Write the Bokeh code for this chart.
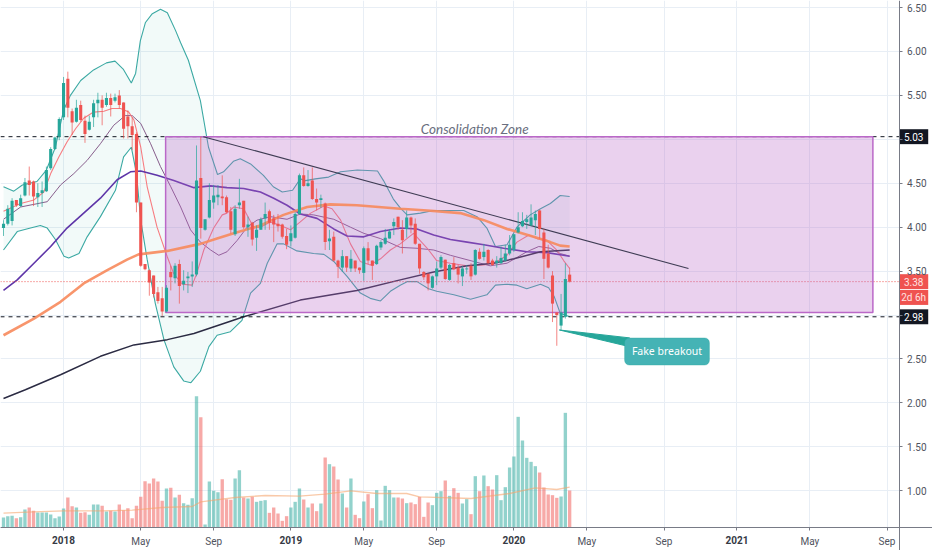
from bokeh.plotting import figure
from bokeh.core.properties import value
from bokeh.models import (ColumnDataSource, FixedTicker, Range1d, BoxAnnotation, LinearAxis, NumeralTickFormatter)
from bokeh.embed import file_html
from bokeh.resources import INLINE

candle_open = [3.99,4.04,4.07,4.31,4.24,4.36,4.53,4.52,4.34,4.39,4.41,4.67,4.89,5.03,5.25,5.69,5.32,5.20,5.39,5.21,5.11,5.25,5.41,5.45,5.39,5.47,5.44,5.50,5.42,5.26,5.15,5.06,4.28,3.58,3.51,3.45,3.26,3.19,3.04,3.49,3.42,3.58,3.35,3.42,3.44,3.46,4.56,3.97,4.11,4.28,4.34,4.35,4.34,4.18,3.92,4.25,4.30,4.00,4.05,3.88,3.97,4.10,4.18,4.10,4.04,4.03,3.90,3.84,3.88,4.15,4.59,4.47,4.53,4.32,4.31,4.27,3.84,3.89,3.62,3.54,3.67,3.53,3.62,3.54,3.48,3.76,3.62,3.58,3.77,3.81,3.87,4.01,4.12,3.97,3.98,4.11,4.04,3.81,3.49,3.47,3.31,3.44,3.54,3.63,3.40,3.59,3.54,3.44,3.52,3.56,3.46,3.72,3.66,3.74,3.62,3.59,3.59,3.62,3.70,3.74,3.94,4.01,4.06,4.02,4.08,4.19,3.94,3.70,3.45,3.03,2.88,2.98,3.46]
candle_high = [4.08,4.25,4.33,4.31,4.37,4.56,4.69,4.53,4.50,4.52,4.69,4.91,5.03,5.25,5.71,5.77,5.35,5.45,5.44,5.27,5.27,5.45,5.53,5.50,5.53,5.52,5.52,5.56,5.42,5.33,5.25,5.08,4.28,3.58,3.52,3.45,3.32,3.32,3.34,3.56,3.59,3.63,3.51,3.49,3.61,4.93,5.03,4.09,4.50,4.48,4.48,4.59,4.36,4.23,4.25,4.55,4.30,4.12,4.06,4.02,4.11,4.28,4.20,4.14,4.15,4.04,3.98,4.02,4.17,4.61,4.68,4.65,4.68,4.44,4.37,4.28,3.97,3.95,3.63,3.74,3.67,3.74,3.62,3.54,3.78,3.83,3.62,3.80,3.85,3.98,3.98,4.10,4.12,4.08,4.19,4.12,4.10,3.81,3.50,3.47,3.45,3.61,3.68,3.63,3.58,3.66,3.57,3.56,3.57,3.59,3.75,3.76,3.81,3.75,3.64,3.67,3.78,3.80,3.91,3.92,4.17,4.17,4.14,4.26,4.19,4.20,3.98,3.80,3.50,3.03,3.24,3.59,3.54]
candle_low = [3.90,4.02,4.02,4.23,4.23,4.35,4.36,4.24,4.23,4.23,4.40,4.65,4.88,4.99,5.22,5.25,5.05,5.19,5.20,4.96,5.10,5.14,5.25,5.16,5.37,5.26,5.42,5.35,5.01,5.01,4.88,4.17,3.55,3.51,3.22,3.20,3.13,2.99,3.03,3.28,3.36,3.13,3.28,3.25,3.32,3.44,3.87,3.96,4.10,4.21,4.25,4.25,4.16,3.93,3.90,4.21,3.98,3.89,3.79,3.73,3.97,3.97,3.97,3.83,3.95,3.87,3.75,3.78,3.87,4.14,4.46,4.46,4.31,4.19,4.22,3.74,3.74,3.61,3.42,3.49,3.49,3.49,3.49,3.47,3.39,3.58,3.40,3.57,3.74,3.80,3.87,3.91,3.97,3.70,3.88,3.93,3.80,3.47,3.40,3.28,3.30,3.34,3.52,3.40,3.39,3.51,3.36,3.33,3.47,3.40,3.45,3.63,3.62,3.58,3.56,3.54,3.58,3.61,3.68,3.72,3.93,4.00,3.98,4.01,3.91,3.87,3.41,3.53,2.92,2.65,2.83,2.96,3.37]
candle_close = [4.04,4.21,4.30,4.25,4.33,4.51,4.48,4.35,4.39,4.42,4.65,4.89,5.02,5.23,5.64,5.36,5.19,5.36,5.22,5.06,5.20,5.41,5.45,5.36,5.47,5.39,5.48,5.39,5.12,5.15,5.05,4.28,3.56,3.52,3.37,3.24,3.16,3.04,3.31,3.43,3.56,3.33,3.39,3.44,3.46,4.53,3.99,4.09,4.31,4.36,4.37,4.33,4.17,3.97,4.21,4.28,4.00,4.03,3.86,3.97,4.09,4.15,4.05,4.03,4.01,3.89,3.80,3.93,4.15,4.59,4.47,4.50,4.32,4.28,4.33,3.83,3.87,3.62,3.55,3.67,3.54,3.64,3.53,3.51,3.76,3.62,3.56,3.79,3.83,3.88,3.95,4.06,4.00,3.85,4.11,4.02,3.81,3.53,3.43,3.36,3.44,3.53,3.66,3.41,3.57,3.52,3.46,3.53,3.53,3.44,3.74,3.64,3.72,3.59,3.57,3.62,3.65,3.70,3.80,3.92,4.00,4.07,4.09,4.11,4.15,3.98,3.64,3.54,3.13,3.00,3.03,3.41,3.38]
volume = [0.30,0.34,0.35,0.28,0.31,0.54,0.60,0.50,0.45,0.45,0.45,0.39,0.28,0.33,0.57,0.90,0.64,0.60,0.44,0.46,0.38,0.69,0.69,0.65,0.48,0.50,0.48,0.69,0.52,0.58,0.28,0.65,0.92,1.39,1.32,1.47,1.38,0.80,1.17,1.19,0.90,0.98,0.73,0.68,0.88,3.94,3.31,0.09,1.38,1.10,1.06,1.45,0.85,0.83,1.47,1.72,0.90,0.87,0.92,0.77,0.80,0.82,0.44,0.60,0.42,0.20,0.34,0.60,0.77,1.17,0.84,0.60,0.72,0.49,0.72,2.10,1.90,1.83,1.44,1.02,0.60,1.47,0.38,0.28,0.78,1.00,0.58,1.12,0.21,1.25,1.12,0.90,0.90,0.87,0.73,0.75,0.70,0.92,0.32,0.75,0.67,1.04,1.09,1.41,0.95,1.18,1.04,0.72,0.85,0.40,1.54,1.09,1.56,1.24,1.14,1.57,0.82,1.21,1.80,2.13,3.32,2.61,2.09,1.97,1.84,1.65,1.20,0.99,0.97,0.89,0.93,3.44,1.11]
vol_ma_x = [0,7,14,23,30,37,44,46,54,61,69,75,81,87,94,97,109,118,124,129,132]
vol_ma_y = [0.43,0.47,0.50,0.50,0.52,0.60,0.63,0.77,0.90,0.96,0.94,1.00,1.10,1.02,1.02,0.92,0.87,1.02,1.19,1.14,1.21]

bb_upper_x = [0,2.4,4.4,7.8,10,12.1,14,15.6,18,21,24,26,27.9,29.8,30.8,31.9,33.1,34.7,36.6,38.2,40.1,41.3,43.1,45.9,47.8,49.9,51.3,53.6,55.2,57.6,60.6,62.9,65,67.4,69.2,70.4,72.7,75.8,78.6,82.5,87.2,88.6,90.9,92.5,94.1,97.2,100.3,104.2,107.3,110.4,112.7,114.7,117.4,119.7,122.8,125.2,127.5,129.8,132]
bb_upper_y = [4.46,4.41,4.48,4.52,4.65,4.91,5.33,5.50,5.67,5.79,5.87,5.89,5.80,5.64,5.75,6.12,6.33,6.43,6.48,6.44,6.24,6.10,5.90,5.44,4.91,4.60,4.63,4.75,4.78,4.72,4.59,4.46,4.40,4.42,4.55,4.53,4.55,4.57,4.63,4.65,4.64,4.53,4.32,4.22,4.14,4.16,4.19,4.19,4.19,4.12,3.99,3.78,3.80,4.00,4.14,4.21,4.27,4.36,4.35]
bb_lower_x = [0,3.2,6.3,8.6,10.2,12.1,14.1,15.2,17.6,19.5,22.6,26.1,28,29.8,31,32,33.5,35.4,37.4,39.7,42,43.7,45.9,47.9,49.8,52.9,55.6,57.6,59.9,61.5,63.8,65.3,68.4,72.3,74.7,77,80.1,83.2,85.5,87.9,90.2,92.5,94.1,96.4,99.1,101,105,108.9,112.7,114.7,117.4,119.7,122,125.2,127.1,128.4,129.8,132]
bb_lower_y = [3.74,3.95,3.99,4.02,3.99,3.86,3.67,3.65,3.70,3.89,4.12,4.42,4.80,4.91,4.61,4.08,3.63,3.13,2.72,2.41,2.25,2.23,2.36,2.64,2.77,2.81,2.94,3.25,3.36,3.59,3.81,3.81,3.73,3.70,3.69,3.61,3.44,3.25,3.19,3.16,3.27,3.34,3.38,3.38,3.30,3.27,3.23,3.18,3.23,3.34,3.35,3.34,3.30,3.35,3.31,3.21,3.02,2.98]
bb_mid_x = [0,4,7.1,10.2,13.3,16.4,19.5,22.6,25.7,28.4,30,32,34.3,36.6,39,41.3,43.6,45.9,48.3,50.2,52.1,54.5,56.8,59.1,62.2,66.1,69.2,72.3,77,80.9,84,87.9,92.5,96.4,100.3,104.2,109.6,113.5,117.4,122,124.8,127.5,129.8,132]
bb_mid_y = [4.09,4.23,4.26,4.29,4.48,4.61,4.76,4.95,5.16,5.27,5.27,5.18,4.95,4.69,4.46,4.23,3.97,3.83,3.74,3.68,3.72,3.85,4.00,4.08,4.12,4.09,4.15,4.14,4.09,4.00,3.93,3.87,3.77,3.76,3.74,3.68,3.61,3.56,3.59,3.72,3.78,3.76,3.70,3.67]
fast_ma_x = [0,4,7.1,9.4,11,12.9,14.8,16.8,18.7,21,23.4,25.3,27.3,29.2,30.4,32,33.5,35.8,38.2,39.7,41.7,44,45.1,46.7,49,51,52.1,53.7,56,58.4,59.9,62.2,64.6,66.9,69.2,71.6,74.7,76.6,78.6,80.9,83.2,85.5,87.9,90.2,92.5,95.6,98.8,101,104.2,108.1,112,115.1,117.4,119.7,122.5,124.4,126.7,129,130.6,132]
fast_ma_y = [4.18,4.27,4.31,4.40,4.61,4.80,4.97,5.12,5.24,5.31,5.32,5.35,5.35,5.31,5.22,4.91,4.46,4.00,3.66,3.47,3.35,3.34,3.48,3.74,3.99,4.14,4.16,4.23,4.21,3.99,4.00,4.06,4.02,3.97,4.06,4.16,4.24,4.21,4.08,3.81,3.61,3.57,3.64,3.74,3.81,3.93,3.76,3.62,3.59,3.56,3.57,3.61,3.68,3.83,3.91,3.87,3.85,3.74,3.62,3.53]
ma50_x = [0,3.2,7.1,11,14.8,18.7,22.6,26.5,29.6,32,35.8,39.7,44.4,48.3,52.1,56,59.9,63,66.1,69.2,73.1,77,80.1,84,87.9,92.5,96.4,100.3,104.2,108.1,112,116.6,122,126.7,132]
ma50_y = [3.28,3.40,3.59,3.78,3.99,4.16,4.33,4.54,4.63,4.64,4.59,4.53,4.45,4.47,4.45,4.44,4.40,4.33,4.25,4.15,4.10,3.98,3.90,3.89,3.95,3.99,3.98,3.91,3.86,3.83,3.80,3.76,3.72,3.71,3.67]
ma100_x = [0,7.1,13.3,18.7,24.2,28.8,31.5,38.2,45.9,49.8,53.7,59.9,65.3,70.8,76.2,82.4,92.5,98.8,106.5,112,117.4,123.6,127.5,129.8,132]
ma100_y = [2.77,2.96,3.15,3.36,3.51,3.63,3.69,3.73,3.81,3.87,3.93,4.02,4.14,4.23,4.26,4.25,4.21,4.19,4.16,4.08,3.98,3.89,3.83,3.79,3.78]
ma200_x = [0,5.1,13.3,22.6,30.4,38.2,44.4,52.9,56,69.2,82.4,92.5,100.3,108.1,114.3,119,125.2,132]
ma200_y = [2.05,2.15,2.32,2.53,2.66,2.72,2.79,2.93,2.98,3.17,3.28,3.40,3.49,3.56,3.59,3.64,3.72,3.74]

trend_x = [46.6, 159.7]
trend_y = [5.03, 3.53]
zone_left, zone_right, zone_top, zone_bottom = 37.8, 202.7, 5.03, 3.03
support, resistance, last_price = 2.98, 5.03, 3.38
year_ticks = [14,67,119,171]
year_labels = ["2018","2019","2020","2021"]
month_ticks = [32,49,84,101,136,154,188,206]
month_labels = ["May","Sep","May","Sep","May","Sep","May","Sep"]
y_ticks = [1.0,1.5,2.0,2.5,3.0,3.5,4.0,4.5,5.0,5.5,6.0,6.5]
callout_x = [129.6,146,146.8]
callout_y = [2.83,2.74,2.63]
tag_values = [5.03, 3.38, 3.20, 2.98]
tag_texts = ["5.03", "3.38", "2d 6h", "2.98"]
tag_fill = ["#131722", "#ef5350", "#ef5350", "#131722"]
tag_ink = ["#ffffff", "#ffe3e2", "#ffe3e2", "#ffffff"]

FONT = "Roboto"
GREEN, RED = "#26a69a", "#ef5350"
TICK = "#50535e"
X0, XAXIS, XEND = -0.7, 208.8, 216.6
YAXIS, YBOTTOM, YTOP = 0.58, 0.32, 6.58

p = figure(width=932, height=550, output_backend="svg", toolbar_location=None,
           x_range=Range1d(X0, XEND), y_range=Range1d(YBOTTOM, YTOP),
           y_axis_location="right", min_border_left=0, min_border_top=0,
           min_border_right=0, min_border_bottom=0, outline_line_color=None)
p.extra_y_ranges["vol"] = Range1d(-0.69, 15.81)

p.xaxis.ticker = FixedTicker(ticks=month_ticks)
p.xaxis.major_label_overrides = dict(zip(month_ticks, month_labels))
p.xaxis.fixed_location = YAXIS
p.yaxis.ticker = FixedTicker(ticks=y_ticks)
p.yaxis.formatter = NumeralTickFormatter(format="0.00")
p.yaxis.major_label_overrides = {5.0: "", 3.0: ""}
p.yaxis.fixed_location = XAXIS
year_axis = LinearAxis(fixed_location=YAXIS, ticker=FixedTicker(ticks=year_ticks),
                       major_label_overrides=dict(zip(year_ticks, year_labels)))
p.add_layout(year_axis, "below")
for ax in (p.xaxis[0], p.yaxis[0], year_axis):
    ax.axis_line_color = "#787b86"
    ax.major_tick_line_color = "#787b86"
    ax.major_tick_in = 0
    ax.major_tick_out = 3
    ax.minor_tick_line_color = None
    ax.major_label_text_color = TICK
    ax.major_label_text_font = FONT
    ax.major_label_text_font_size = "10px"
    ax.major_label_standoff = 5
    ax.level = "overlay"
year_axis.major_label_text_color = "#363a45"
year_axis.major_label_text_font_style = "bold"
p.xgrid.grid_line_color = "#e8eef5"
p.ygrid.grid_line_color = "#e8eef5"
p.xgrid.ticker = FixedTicker(ticks=sorted(year_ticks + month_ticks))
p.ygrid.ticker = FixedTicker(ticks=y_ticks)

# White strips that stop the grid at the axes
p.quad(left=[XAXIS, X0], right=[XEND, XEND], top=[YTOP, YAXIS], bottom=[YBOTTOM, YBOTTOM],
       fill_color="#ffffff", line_color=None)

# Bollinger band fill + lines
p.patch(bb_upper_x + bb_lower_x[::-1], bb_upper_y + bb_lower_y[::-1],
        fill_color=GREEN, fill_alpha=0.06, line_color=None)
p.line(bb_upper_x, bb_upper_y, line_color="#3ba9a3", line_width=1.1)
p.line(bb_lower_x, bb_lower_y, line_color="#3ba9a3", line_width=1.1)
p.line(bb_mid_x, bb_mid_y, line_color="#7b4d7f", line_width=1, line_alpha=0.9)
p.line(fast_ma_x, fast_ma_y, line_color="#f77c80", line_width=1.1)
p.line(ma50_x, ma50_y, line_color="#5e35a8", line_width=1.6)
p.line(ma200_x, ma200_y, line_color="#2b2b43", line_width=1.5)

# Levels
p.line([X0, XAXIS], [resistance, resistance], line_color="#131722", line_width=1, line_dash=[4, 4])
p.line([X0, XAXIS], [support, support], line_color="#131722", line_width=1, line_dash=[4, 4])
p.line([X0, XAXIS], [last_price, last_price], line_color=RED, line_width=1, line_dash=[1, 2])

# Zone
p.quad(left=[zone_left], right=[zone_right], top=[zone_top], bottom=[zone_bottom],
       fill_color="#ba68c8", fill_alpha=0.3, line_color="#ba68c8", line_width=1.5)
p.line(ma100_x, ma100_y, line_color="#f78a5c", line_width=2.6, line_alpha=0.9)

# Trend line
p.line(trend_x, trend_y, line_color="#2b2b43", line_width=1.1, line_alpha=0.9)

# Volume
idx = list(range(len(candle_open)))
colors = [GREEN if c >= o else RED for o, c in zip(candle_open, candle_close)]
src = ColumnDataSource(dict(i=idx, o=candle_open, h=candle_high, l=candle_low, c=candle_close, v=volume, col=colors))
p.vbar(x="i", top="v", bottom=0, width=0.78, source=src, fill_color="col", line_color=None,
       fill_alpha=0.5, y_range_name="vol")
p.line(vol_ma_x, vol_ma_y, line_color="#f5a56e", line_width=1.3, line_alpha=0.6, y_range_name="vol")

# Candles
p.segment(x0="i", x1="i", y0="l", y1="h", source=src, line_color="col", line_width=1, line_alpha=0.7)
p.vbar(x="i", top="o", bottom="c", width=0.72, source=src, fill_color="col", line_color=None)

# Text
p.text([97.3], [5.115], text=["Consolidation Zone"], text_font=value("Lato"), text_font_size="13.5px",
       text_font_style="italic", text_color="#6a6f80", text_baseline="middle", text_align="left")

# Callout
p.patch(callout_x, callout_y, fill_color="#26a69a", line_color="#26a69a", line_width=1)
p.add_layout(BoxAnnotation(left=144.8, right=164.6, top=2.74, bottom=2.43, fill_color="#45b3b5",
                           fill_alpha=1, line_color="#26a69a", line_width=1, border_radius=5))
p.text([154.7], [2.585], text=["Fake breakout"], text_color="#ffffff", text_font=value("Noto Sans"),
       text_font_size="10.5px", text_align="center", text_baseline="middle", level="overlay")

# Price tags
p.quad(left=[XAXIS] * 4, right=[XAXIS + 6.8] * 4,
       top=[v + 0.085 for v in tag_values], bottom=[v - 0.085 for v in tag_values],
       fill_color=tag_fill, line_color=None, level="overlay")
p.text([XAXIS + 3.4] * 4, tag_values, text=tag_texts, text_color=tag_ink, text_font=value(FONT),
       text_font_size="10px", text_align="center", text_baseline="middle", level="overlay")

open("out.html", "w").write(file_html(p, INLINE))
